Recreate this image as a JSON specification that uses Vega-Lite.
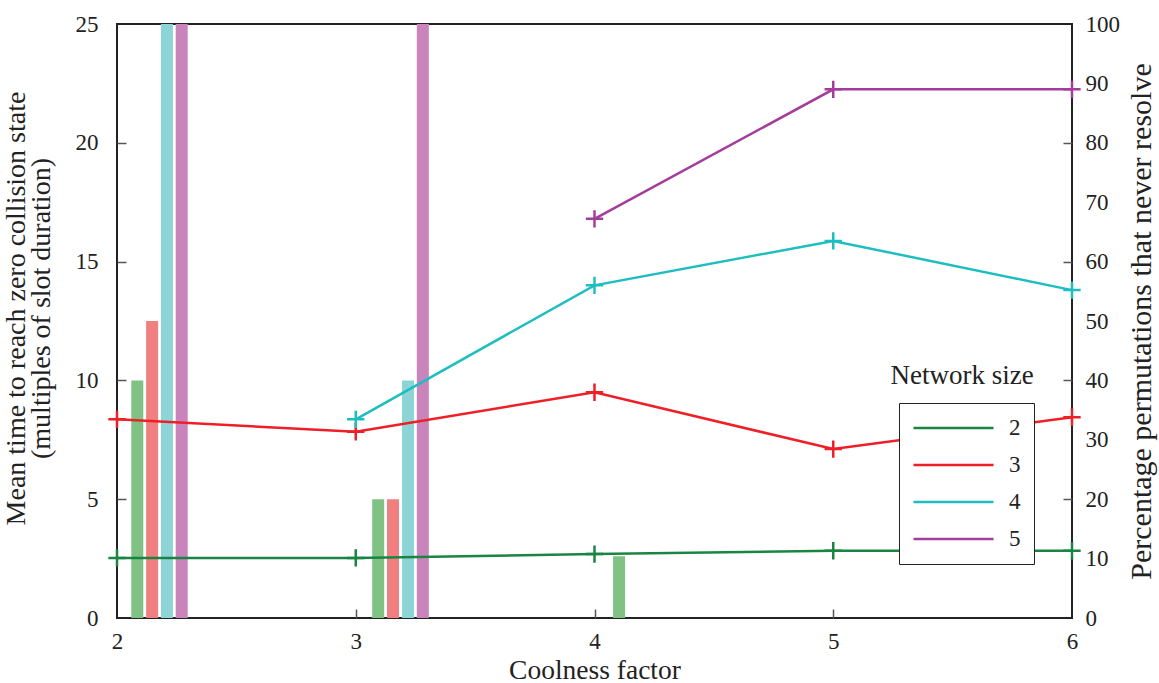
{
  "$schema": "https://vega.github.io/schema/vega-lite/v6.json",
  "width": 955,
  "height": 594,
  "autosize": {"type": "none"},
  "padding": {"left": 117, "top": 24, "right": 87, "bottom": 65},
  "background": "white",
  "config": {
    "font": "Liberation Serif",
    "view": {"stroke": "#222", "strokeWidth": 2},
    "axis": {
      "grid": false,
      "domain": false,
      "labelFont": "Liberation Serif",
      "labelFontSize": 23,
      "labelColor": "#222",
      "titleFont": "Liberation Serif",
      "titleFontSize": 27.5,
      "titleFontWeight": "normal",
      "titleColor": "#222",
      "tickColor": "#555",
      "tickWidth": 1.5
    }
  },
  "datasets": {
    "bars": [
      {"coolness": 2.085, "percent": 40, "size": "2"},
      {"coolness": 2.147, "percent": 50, "size": "3"},
      {"coolness": 2.209, "percent": 100, "size": "4"},
      {"coolness": 2.271, "percent": 100, "size": "5"},
      {"coolness": 3.094, "percent": 20, "size": "2"},
      {"coolness": 3.156, "percent": 20, "size": "3"},
      {"coolness": 3.219, "percent": 40, "size": "4"},
      {"coolness": 3.281, "percent": 100, "size": "5"},
      {"coolness": 4.103, "percent": 10.4, "size": "2"}
    ],
    "lines": [
      {"coolness": 2, "time": 2.53, "size": "2"},
      {"coolness": 3, "time": 2.53, "size": "2"},
      {"coolness": 4, "time": 2.69, "size": "2"},
      {"coolness": 5, "time": 2.83, "size": "2"},
      {"coolness": 6, "time": 2.83, "size": "2"},
      {"coolness": 2, "time": 8.36, "size": "3"},
      {"coolness": 3, "time": 7.84, "size": "3"},
      {"coolness": 4, "time": 9.5, "size": "3"},
      {"coolness": 5, "time": 7.11, "size": "3"},
      {"coolness": 6, "time": 8.45, "size": "3"},
      {"coolness": 3, "time": 8.36, "size": "4"},
      {"coolness": 4, "time": 14.0, "size": "4"},
      {"coolness": 5, "time": 15.87, "size": "4"},
      {"coolness": 6, "time": 13.8, "size": "4"},
      {"coolness": 4, "time": 16.8, "size": "5"},
      {"coolness": 5, "time": 22.25, "size": "5"},
      {"coolness": 6, "time": 22.25, "size": "5"}
    ]
  },
  "layer": [
    {
      "data": {"name": "bars"},
      "mark": {"type": "bar", "size": 12},
      "encoding": {
        "x": {
          "field": "coolness",
          "type": "quantitative",
          "scale": {"domain": [2, 6], "nice": false, "zero": false, "padding": 0},
          "axis": {
            "title": "Coolness factor",
            "values": [2, 3, 4, 5, 6],
            "format": "d",
            "tickSize": -9,
            "labelPadding": 21,
            "labelFlush": false,
            "titlePadding": 3,
            "tickOpacity": {"condition": {"test": "datum.value == 2 || datum.value == 6", "value": 0}, "value": 1}
          }
        },
        "y": {
          "field": "percent",
          "type": "quantitative",
          "scale": {"domain": [0, 100], "nice": false},
          "axis": {
            "orient": "right",
            "title": "Percentage permutations that never resolve",
            "titleAngle": 270,
            "titleFontSize": 30,
            "titlePadding": 37,
            "values": [0, 10, 20, 30, 40, 50, 60, 70, 80, 90, 100],
            "tickSize": -9,
            "labelPadding": 22,
            "tickOpacity": {"condition": {"test": "datum.value % 20 == 0 && datum.value > 0 && datum.value < 100", "value": 1}, "value": 0}
          }
        },
        "fill": {
          "field": "size",
          "type": "nominal",
          "scale": {"range": ["#7fc283", "#f08080", "#8cd4d6", "#c984bc"]},
          "legend": null
        }
      }
    },
    {
      "data": {"name": "lines"},
      "encoding": {
        "x": {"field": "coolness", "type": "quantitative"},
        "y": {
          "field": "time",
          "type": "quantitative",
          "scale": {"domain": [0, 25], "nice": false},
          "axis": {
            "orient": "left",
            "title": ["Mean time to reach zero collision state", "(multiples of slot duration)"],
            "titleFontSize": 28,
            "titlePadding": 20,
            "titleLineHeight": 25,
            "titleY": 284,
            "values": [0, 5, 10, 15, 20, 25],
            "tickSize": -9,
            "labelPadding": 28,
            "tickOpacity": {"condition": {"test": "datum.value == 0 || datum.value == 25", "value": 0}, "value": 1}
          }
        }
      },
      "layer": [
        {
          "mark": {"type": "line", "strokeWidth": 2.5},
          "encoding": {
            "stroke": {
              "field": "size",
              "type": "nominal",
              "title": null,
              "scale": {"domain": ["2", "3", "4", "5"], "range": ["#1a8543", "#ee1f26", "#1ebec0", "#a43c9c"]},
              "legend": {
                "orient": "none",
                "legendX": 782,
                "legendY": 379,
                "symbolType": "stroke",
                "symbolSize": 6400,
                "symbolStrokeWidth": 2.5,
                "clipHeight": 24,
                "rowPadding": 13,
                "labelFontSize": 23,
                "labelColor": "#222",
                "labelFont": "Liberation Serif",
                "strokeColor": "#222",
                "fillColor": "white",
                "padding": 13,
                "labelOffset": 14
              }
            }
          }
        },
        {
          "mark": {"type": "point", "shape": "M-1,0L1,0M0,-1L0,1", "filled": false, "size": 300, "strokeWidth": 2.5, "opacity": 1},
          "encoding": {
            "stroke": {"field": "size", "type": "nominal", "title": null}
          }
        },
        {
          "transform": [{"filter": "datum.coolness == 6 && datum.size == '2'"}],
          "mark": {"type": "text", "text": "Network size", "fontSize": 27, "font": "Liberation Serif", "fill": "#222", "align": "center", "baseline": "middle"},
          "encoding": {
            "x": {"datum": 5.54},
            "y": {"datum": 10.2}
          }
        }
      ]
    }
  ],
  "resolve": {"scale": {"y": "independent"}}
}
